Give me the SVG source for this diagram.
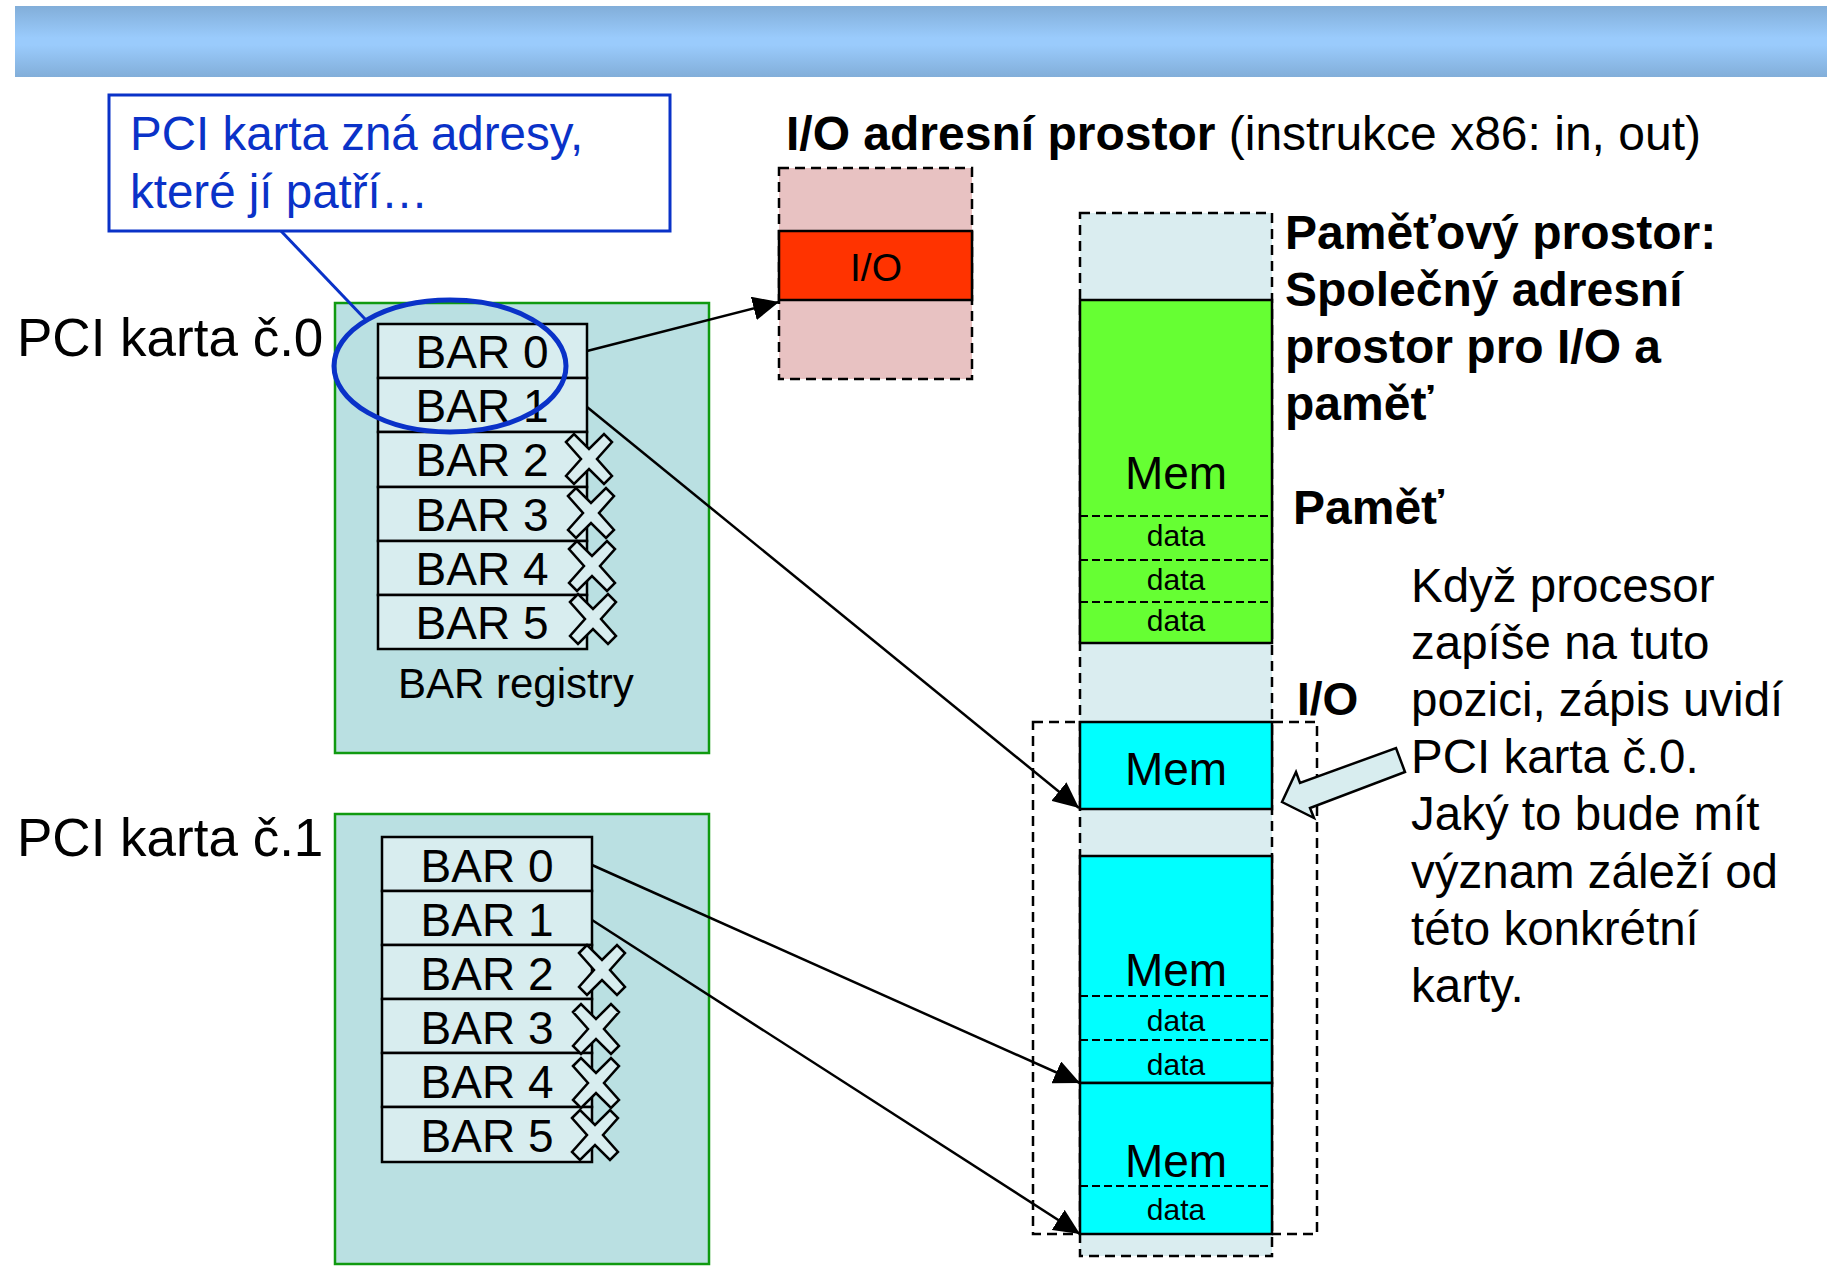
<svg xmlns="http://www.w3.org/2000/svg" width="1827" height="1266" viewBox="0 0 1827 1266">
<defs>
<linearGradient id="hdr" x1="0" y1="0" x2="0" y2="1">
<stop offset="0" stop-color="#82aed9"/>
<stop offset="0.45" stop-color="#9acbfc"/>
<stop offset="0.55" stop-color="#9acbfc"/>
<stop offset="1" stop-color="#82aed9"/>
</linearGradient>
<marker id="ah" viewBox="0 0 26 24" refX="26" refY="12" markerWidth="26" markerHeight="24" markerUnits="userSpaceOnUse" orient="auto">
<path d="M0,0 L26,12 L0,24 z" fill="#000"/>
</marker>
<path id="xm" d="M-23,-17 L-15,-25 L0,-10 L15,-25 L23,-17 L8,0 L23,17 L15,25 L0,10 L-15,25 L-23,17 L-8,0 z"/>
</defs>
<style>
text{font-family:"Liberation Sans",Arial,sans-serif;fill:#000}
.b{font-weight:bold}
.card{fill:#bae0e2;stroke:#109a10;stroke-width:2.5}
.bar{fill:#d8edef;stroke:#000;stroke-width:2.5}
.bt{font-size:46px;text-anchor:middle}
.x{fill:#d8edef;stroke:#000;stroke-width:2.5;stroke-linejoin:miter}
.conn{stroke:#000;stroke-width:2.5;fill:none;marker-end:url(#ah)}
.dash{stroke:#000;stroke-width:2.5;stroke-dasharray:10 6}
.solid{stroke:#000;stroke-width:2.5}
.dl{stroke:#000;stroke-width:2;stroke-dasharray:8 4;fill:none}
.mem{font-size:46px;text-anchor:middle}
.data{font-size:30px;text-anchor:middle}
.rt{font-size:47.5px}
.hd{font-size:48px;font-weight:bold}
</style>

<rect id="header" x="15" y="6" width="1812" height="71" fill="url(#hdr)"/>

<g id="callout">
<rect x="109" y="95" width="561" height="136" fill="#fff" stroke="#0a32c8" stroke-width="3"/>
<text x="130" y="150" style="font-size:47.5px;fill:#0a32c8">PCI karta zná adresy,</text>
<text x="130" y="208" style="font-size:47.5px;fill:#0a32c8">které jí patří…</text>
</g>

<g id="card0">
<text x="17" y="356" style="font-size:53px">PCI karta č.0</text>
<rect class="card" x="335" y="303" width="374" height="450"/>
<rect class="bar" x="378" y="324" width="209" height="54"/>
<rect class="bar" x="378" y="378" width="209" height="54"/>
<rect class="bar" x="378" y="432" width="209" height="55"/>
<rect class="bar" x="378" y="487" width="209" height="54"/>
<rect class="bar" x="378" y="541" width="209" height="54"/>
<rect class="bar" x="378" y="595" width="209" height="54"/>
<text class="bt" x="482" y="368">BAR 0</text>
<text class="bt" x="482" y="422">BAR 1</text>
<text class="bt" x="482" y="476">BAR 2</text>
<text class="bt" x="482" y="531">BAR 3</text>
<text class="bt" x="482" y="585">BAR 4</text>
<text class="bt" x="482" y="639">BAR 5</text>
<use href="#xm" class="x" transform="translate(589,459)"/>
<use href="#xm" class="x" transform="translate(591,513)"/>
<use href="#xm" class="x" transform="translate(592,566)"/>
<use href="#xm" class="x" transform="translate(593,619)"/>
<text x="398" y="698" style="font-size:42px">BAR registry</text>
</g>

<g id="card1">
<text x="17" y="856" style="font-size:53px">PCI karta č.1</text>
<rect class="card" x="335" y="814" width="374" height="450"/>
<rect class="bar" x="382" y="837" width="210" height="54"/>
<rect class="bar" x="382" y="891" width="210" height="54"/>
<rect class="bar" x="382" y="945" width="210" height="54"/>
<rect class="bar" x="382" y="999" width="210" height="54"/>
<rect class="bar" x="382" y="1053" width="210" height="54"/>
<rect class="bar" x="382" y="1107" width="210" height="55"/>
<text class="bt" x="487" y="882">BAR 0</text>
<text class="bt" x="487" y="936">BAR 1</text>
<text class="bt" x="487" y="990">BAR 2</text>
<text class="bt" x="487" y="1044">BAR 3</text>
<text class="bt" x="487" y="1098">BAR 4</text>
<text class="bt" x="487" y="1152">BAR 5</text>
<use href="#xm" class="x" transform="translate(602,970)"/>
<use href="#xm" class="x" transform="translate(596,1029)"/>
<use href="#xm" class="x" transform="translate(596,1083)"/>
<use href="#xm" class="x" transform="translate(595,1135)"/>
</g>

<g id="ellipse">
<ellipse cx="450" cy="366" rx="116" ry="66" fill="none" stroke="#0a32c8" stroke-width="5"/>
<line x1="281" y1="231" x2="366" y2="320" stroke="#0a32c8" stroke-width="3"/>
</g>

<g id="io-space">
<text x="786" y="150" style="font-size:48px"><tspan class="b">I/O adresní prostor</tspan> (instrukce x86: in, out)</text>
<rect x="779" y="168" width="193" height="211" fill="#e8c2c2" class="dash"/>
<rect x="779" y="231" width="193" height="69" fill="#ff3300" class="solid"/>
<text x="876" y="281" style="font-size:39px;text-anchor:middle">I/O</text>
</g>

<g id="memory-space">
<rect x="1033" y="722" width="284" height="512" fill="none" class="dash"/>
<rect x="1080" y="213" width="192" height="1043" fill="#daedf0" class="dash"/>
<rect x="1080" y="300" width="192" height="343" fill="#66ff33" class="solid"/>
<line class="dl" x1="1080" y1="516" x2="1272" y2="516"/>
<line class="dl" x1="1080" y1="560" x2="1272" y2="560"/>
<line class="dl" x1="1080" y1="602" x2="1272" y2="602"/>
<text class="mem" x="1176" y="489">Mem</text>
<text class="data" x="1176" y="546">data</text>
<text class="data" x="1176" y="590">data</text>
<text class="data" x="1176" y="631">data</text>
<rect x="1080" y="722" width="192" height="87" fill="#00ffff" class="solid"/>
<text class="mem" x="1176" y="785">Mem</text>
<rect x="1080" y="856" width="192" height="227" fill="#00ffff" class="solid"/>
<line class="dl" x1="1080" y1="996" x2="1272" y2="996"/>
<line class="dl" x1="1080" y1="1040" x2="1272" y2="1040"/>
<text class="mem" x="1176" y="986">Mem</text>
<text class="data" x="1176" y="1031">data</text>
<text class="data" x="1176" y="1075">data</text>
<rect x="1080" y="1083" width="192" height="151" fill="#00ffff" class="solid"/>
<line class="dl" x1="1080" y1="1186" x2="1272" y2="1186"/>
<text class="mem" x="1176" y="1177">Mem</text>
<text class="data" x="1176" y="1220">data</text>
</g>

<g id="labels">
<text class="hd" x="1285" y="249">Paměťový prostor:</text>
<text class="hd" x="1285" y="306">Společný adresní</text>
<text class="hd" x="1285" y="363">prostor pro I/O a</text>
<text class="hd" x="1285" y="420">paměť</text>
<text class="hd" x="1293" y="524">Paměť</text>
<text class="b" x="1297" y="715" style="font-size:46px">I/O</text>
</g>

<g id="note">
<text class="rt" x="1411" y="602">Když procesor</text>
<text class="rt" x="1411" y="659">zapíše na tuto</text>
<text class="rt" x="1411" y="716">pozici, zápis uvidí</text>
<text class="rt" x="1411" y="773">PCI karta č.0.</text>
<text class="rt" x="1411" y="830">Jaký to bude mít</text>
<text class="rt" x="1411" y="888">význam záleží od</text>
<text class="rt" x="1411" y="945">této konkrétní</text>
<text class="rt" x="1411" y="1002">karty.</text>
<path d="M1282,802 L1296,772 L1300,783 L1396,748 L1405,772 L1310,808 L1314,818 z" fill="#d8edef" stroke="#000" stroke-width="2.5"/>
</g>

<g id="connectors">
<line class="conn" x1="587" y1="351" x2="779" y2="302"/>
<line class="conn" x1="587" y1="407" x2="1079" y2="808"/>
<line class="conn" x1="592" y1="865" x2="1080" y2="1083"/>
<line class="conn" x1="592" y1="920" x2="1080" y2="1234"/>
</g>
</svg>
